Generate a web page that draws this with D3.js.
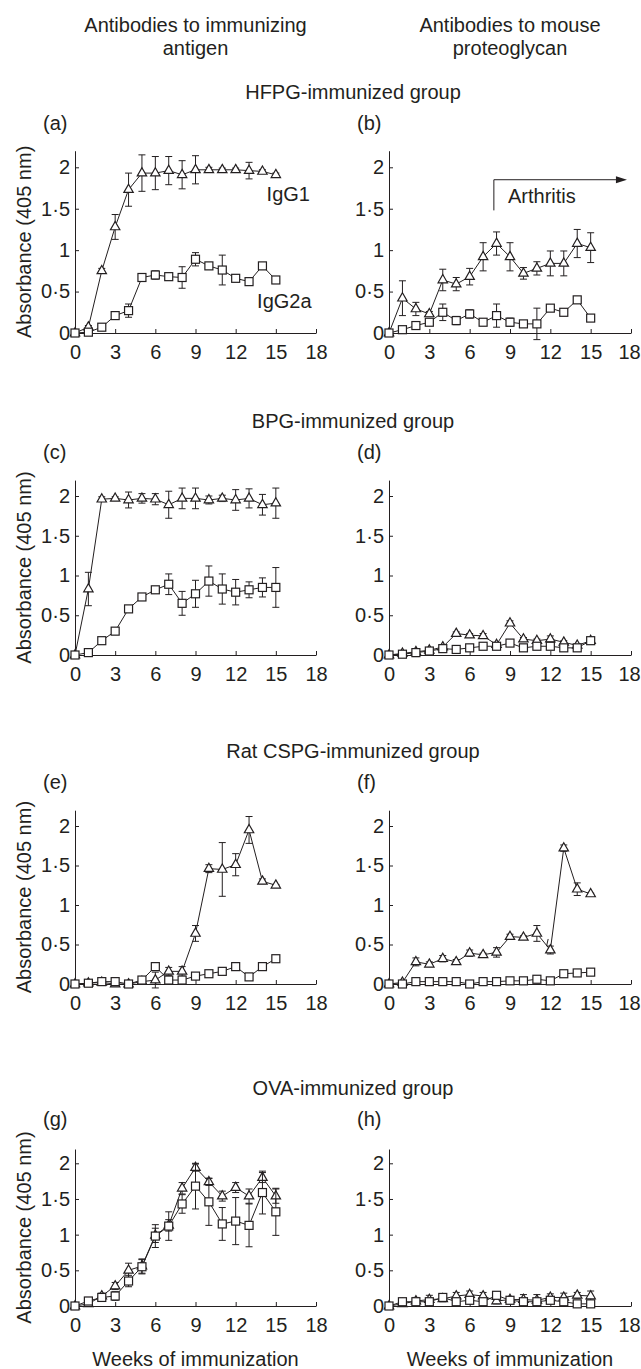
<!DOCTYPE html>
<html>
<head>
<meta charset="utf-8">
<script src="https://cdn.jsdelivr.net/npm/d3@7"></script>
<style>
  body { margin: 0; background: #fff; }
  text { font-family: "Liberation Sans", Arial, Helvetica, sans-serif; fill: #231f20; }
</style>
</head>
<body>
<div id="chart"></div>
<script>
const width = 641;
const height = 1369;
const fontSize = 20;

// weeks of immunization (x values)
const weeks = [0, 1, 2, 3, 4, 5, 6, 7, 8, 9, 10, 11, 12, 13, 14, 15];
const xTicks = [0, 3, 6, 9, 12, 15, 18];
const yTicks = [0, 0.5, 1, 1.5, 2];

// (a) HFPG - antibodies to immunizing antigen
const aIgG1 = [0, 0.07, 0.75, 1.28, 1.73, 1.93, 1.93, 1.96, 1.91, 1.97, 1.97, 1.97, 1.97, 1.96, 1.95, 1.91];
const aIgG1Err = [0, 0.02, 0.03, 0.15, 0.2, 0.22, 0.2, 0.17, 0.17, 0.17, 0.03, 0.02, 0.02, 0.1, 0.02, 0.02];
const aIgG2a = [0, 0.01, 0.07, 0.21, 0.27, 0.67, 0.70, 0.68, 0.67, 0.89, 0.81, 0.76, 0.66, 0.62, 0.81, 0.64];
const aIgG2aErr = [0, 0.01, 0.02, 0.04, 0.08, 0.03, 0.05, 0.03, 0.13, 0.08, 0.04, 0.18, 0.03, 0.02, 0.02, 0.02];

// (b) HFPG - antibodies to mouse proteoglycan
const bIgG1 = [0, 0.42, 0.29, 0.23, 0.64, 0.59, 0.68, 0.92, 1.08, 0.92, 0.72, 0.78, 0.84, 0.84, 1.08, 1.03];
const bIgG1Err = [0, 0.21, 0.08, 0.03, 0.13, 0.08, 0.1, 0.17, 0.14, 0.17, 0.07, 0.08, 0.15, 0.15, 0.17, 0.18];
const bIgG2a = [0, 0.04, 0.09, 0.13, 0.25, 0.15, 0.23, 0.13, 0.21, 0.13, 0.11, 0.11, 0.30, 0.25, 0.40, 0.18];
const bIgG2aErr = [0, 0.01, 0.02, 0.03, 0.1, 0.05, 0.05, 0.02, 0.14, 0.05, 0.03, 0.19, 0.02, 0.03, 0.03, 0.02];

// (c) BPG - immunizing antigen
const cIgG1 = [0, 0.83, 1.96, 1.97, 1.95, 1.97, 1.96, 1.89, 1.97, 1.97, 1.95, 1.97, 1.95, 1.97, 1.89, 1.91];
const cIgG1Err = [0, 0.21, 0.03, 0.02, 0.1, 0.06, 0.07, 0.17, 0.13, 0.13, 0.05, 0.04, 0.13, 0.12, 0.13, 0.19];
const cIgG2a = [0, 0.03, 0.18, 0.30, 0.58, 0.73, 0.82, 0.89, 0.65, 0.77, 0.93, 0.83, 0.79, 0.82, 0.85, 0.85];
const cIgG2aErr = [0, 0.01, 0.01, 0.01, 0.01, 0.02, 0.04, 0.13, 0.15, 0.17, 0.19, 0.19, 0.16, 0.1, 0.12, 0.25];

// (d) BPG - mouse proteoglycan
const dIgG1 = [0, 0.02, 0.04, 0.06, 0.1, 0.27, 0.25, 0.24, 0.13, 0.40, 0.2, 0.18, 0.2, 0.16, 0.12, 0.18];
const dIgG1Err = [0, 0.01, 0.02, 0.03, 0.02, 0.02, 0.02, 0.03, 0.02, 0.03, 0.02, 0.02, 0.04, 0.02, 0.02, 0.02];
const dIgG2a = [0, 0.01, 0.03, 0.05, 0.08, 0.07, 0.09, 0.11, 0.11, 0.15, 0.09, 0.11, 0.11, 0.09, 0.09, 0.18];
const dIgG2aErr = [0, 0.01, 0.05, 0.02, 0.02, 0.02, 0.02, 0.02, 0.02, 0.02, 0.02, 0.02, 0.02, 0.02, 0.02, 0.03];

// (e) Rat CSPG - immunizing antigen
const eIgG1 = [0, 0.01, 0.02, 0.0, 0.0, 0.03, 0.05, 0.16, 0.16, 0.64, 1.46, 1.45, 1.51, 1.95, 1.30, 1.25];
const eIgG1Err = [0, 0.01, 0.01, 0.02, 0.01, 0.02, 0.1, 0.05, 0.06, 0.1, 0.05, 0.34, 0.14, 0.17, 0.03, 0.01];
const eIgG2a = [0, 0.01, 0.03, 0.03, 0.0, 0.05, 0.22, 0.05, 0.05, 0.10, 0.13, 0.16, 0.22, 0.09, 0.22, 0.32];
const eIgG2aErr = [0, 0.01, 0.01, 0.04, 0.01, 0.01, 0.02, 0.01, 0.01, 0.01, 0.01, 0.01, 0.01, 0.01, 0.01, 0.01];

// (f) Rat CSPG - mouse proteoglycan
const fIgG1 = [0, 0.02, 0.28, 0.25, 0.32, 0.28, 0.39, 0.37, 0.40, 0.60, 0.59, 0.64, 0.43, 1.72, 1.20, 1.14];
const fIgG1Err = [0, 0.01, 0.05, 0.03, 0.04, 0.03, 0.04, 0.02, 0.06, 0.03, 0.02, 0.1, 0.05, 0.04, 0.08, 0.01];
const fIgG2a = [0, 0.0, 0.03, 0.03, 0.03, 0.03, 0.0, 0.03, 0.03, 0.04, 0.04, 0.06, 0.04, 0.13, 0.14, 0.15];
const fIgG2aErr = [0, 0.01, 0.01, 0.01, 0.01, 0.01, 0.01, 0.01, 0.01, 0.01, 0.01, 0.01, 0.01, 0.01, 0.01, 0.01];

// (g) OVA - immunizing antigen
const gIgG1 = [0, 0.03, 0.14, 0.28, 0.50, 0.56, 0.99, 1.13, 1.65, 1.94, 1.74, 1.54, 1.66, 1.54, 1.80, 1.54];
const gIgG1Err = [0, 0.02, 0.04, 0.05, 0.1, 0.1, 0.1, 0.08, 0.08, 0.05, 0.05, 0.07, 0.07, 0.1, 0.07, 0.1];
const gIgG2a = [0, 0.07, 0.12, 0.14, 0.35, 0.55, 0.98, 1.12, 1.43, 1.68, 1.46, 1.15, 1.19, 1.13, 1.59, 1.32];
const gIgG2aErr = [0, 0.05, 0.05, 0.06, 0.08, 0.1, 0.16, 0.2, 0.13, 0.32, 0.33, 0.23, 0.33, 0.3, 0.3, 0.33];

// (h) OVA - mouse proteoglycan
const hIgG1 = [0, 0.03, 0.07, 0.09, 0.1, 0.14, 0.16, 0.14, 0.07, 0.09, 0.09, 0.08, 0.12, 0.12, 0.15, 0.14];
const hIgG1Err = [0, 0.02, 0.05, 0.06, 0.04, 0.05, 0.05, 0.05, 0.04, 0.04, 0.07, 0.08, 0.05, 0.06, 0.04, 0.07];
const hIgG2a = [0, 0.06, 0.06, 0.06, 0.12, 0.06, 0.08, 0.06, 0.15, 0.08, 0.06, 0.06, 0.08, 0.06, 0.03, 0.03];
const hIgG2aErr = [0, 0.02, 0.02, 0.02, 0.04, 0.02, 0.02, 0.02, 0.02, 0.02, 0.02, 0.02, 0.02, 0.02, 0.02, 0.02];

// arthritis onset arrow in (b): start week, end week, bottom / top absorbance
const arthritisArrow = [7.8, 17.7, 1.48, 1.85];
// stray slash in (f)
const fSlash = [[11.72, 0.48], [11.84, 0.57]];

const colHeaders = [["Antibodies to immunizing", "antigen"], ["Antibodies to mouse", "proteoglycan"]];
const groupTitles = ["HFPG-immunized group", "BPG-immunized group", "Rat CSPG-immunized group", "OVA-immunized group"];

// layout
const cols = [[75, 316], [389, 631]];
const rows = [
  { y0: 333, y2: 167.3 },
  { y0: 655, y2: 496 },
  { y0: 984, y2: 826 },
  { y0: 1306, y2: 1163.3 }
];

const panels = [
  { id: "(a)", col: 0, row: 0, tri: aIgG1, triErr: aIgG1Err, sq: aIgG2a, sqErr: aIgG2aErr },
  { id: "(b)", col: 1, row: 0, tri: bIgG1, triErr: bIgG1Err, sq: bIgG2a, sqErr: bIgG2aErr },
  { id: "(c)", col: 0, row: 1, tri: cIgG1, triErr: cIgG1Err, sq: cIgG2a, sqErr: cIgG2aErr },
  { id: "(d)", col: 1, row: 1, tri: dIgG1, triErr: dIgG1Err, sq: dIgG2a, sqErr: dIgG2aErr },
  { id: "(e)", col: 0, row: 2, tri: eIgG1, triErr: eIgG1Err, sq: eIgG2a, sqErr: eIgG2aErr },
  { id: "(f)", col: 1, row: 2, tri: fIgG1, triErr: fIgG1Err, sq: fIgG2a, sqErr: fIgG2aErr },
  { id: "(g)", col: 0, row: 3, tri: gIgG1, triErr: gIgG1Err, sq: gIgG2a, sqErr: gIgG2aErr },
  { id: "(h)", col: 1, row: 3, tri: hIgG1, triErr: hIgG1Err, sq: hIgG2a, sqErr: hIgG2aErr }
];

const ink = "#231f20";

const svg = d3.select("#chart")
  .append("svg")
  .attr("width", width)
  .attr("height", height)
  .attr("font-size", fontSize);

// column headers
colHeaders.forEach((lines, i) => {
  const cx = (cols[i][0] + cols[i][1]) / 2;
  lines.forEach((t, j) => {
    svg.append("text")
      .attr("x", cx)
      .attr("y", 32 + j * 23)
      .attr("text-anchor", "middle")
      .text(t);
  });
});

const triPath = "M0,-5.4L4.7,2.8L-4.7,2.8Z";

panels.forEach(p => {
  const r = rows[p.row];
  const x = d3.scaleLinear().domain([0, 18]).range(cols[p.col]);
  const yTop = r.y0 - 1.1 * (r.y0 - r.y2);
  const y = d3.scaleLinear().domain([0, 2.2]).range([r.y0, yTop]);

  const g = svg.append("g").attr("class", "panel");

  // panel letter
  g.append("text")
    .attr("x", cols[p.col][0] - 32)
    .attr("y", r.y2 - 37)
    .text(p.id);

  // axes
  const xAxis = d3.axisBottom(x)
    .tickValues(xTicks)
    .tickSize(-4)
    .tickSizeOuter(0)
    .tickPadding(12)
    .tickFormat(d3.format("d"));

  const yAxis = d3.axisLeft(y)
    .tickValues(yTicks)
    .tickSize(-4)
    .tickSizeOuter(0)
    .tickPadding(5)
    .tickFormat(d => String(d).replace(".", "·"));

  g.append("g")
    .attr("transform", `translate(0, ${r.y0})`)
    .call(xAxis)
    .call(s => s.selectAll("text").attr("font-size", fontSize).attr("font-family", null).attr("fill", ink))
    .call(s => s.selectAll("text").filter(d => p.col === 1 && d === 18).attr("dx", -2))
    .call(s => s.selectAll("path, line").attr("stroke", ink));

  g.append("g")
    .attr("transform", `translate(${cols[p.col][0]}, 0)`)
    .call(yAxis)
    .call(s => s.selectAll("text").attr("font-size", fontSize).attr("font-family", null).attr("fill", ink))
    .call(s => s.selectAll("path, line").attr("stroke", ink));

  if (p.col === 0) {
    g.append("text")
      .attr("transform", `translate(31, ${(r.y0 + yTop) / 2}) rotate(-90)`)
      .attr("text-anchor", "middle")
      .text("Absorbance (405 nm)");
  }

  const line = d3.line()
    .x((d, i) => x(weeks[i]))
    .y(d => y(d));

  const series = [
    { vals: p.tri, err: p.triErr, shape: "tri" },
    { vals: p.sq, err: p.sqErr, shape: "sq" }
  ];

  // lines first
  series.forEach(s => {
    g.append("path")
      .attr("d", line(s.vals))
      .attr("fill", "none")
      .attr("stroke", ink)
      .attr("stroke-width", 1);
  });

  series.forEach(s => {
    const pts = s.vals.map((v, i) => ({ w: weeks[i], v: v, e: s.err[i] }));
    const eb = g.append("g").attr("stroke", ink).attr("stroke-width", 1);
    pts.filter(d => d.e > 0).forEach(d => {
      eb.append("line")
        .attr("x1", x(d.w)).attr("x2", x(d.w))
        .attr("y1", y(d.v - d.e)).attr("y2", y(d.v + d.e));
      [d.v - d.e, d.v + d.e].forEach(v => {
        eb.append("line")
          .attr("x1", x(d.w) - 3.5).attr("x2", x(d.w) + 3.5)
          .attr("y1", y(v)).attr("y2", y(v));
      });
    });

    const m = g.append("g")
      .attr("fill", "#fff")
      .attr("stroke", ink)
      .attr("stroke-width", 1.2);
    if (s.shape === "tri") {
      m.selectAll("path")
        .data(pts)
        .join("path")
        .attr("d", triPath)
        .attr("transform", d => `translate(${x(d.w)}, ${y(d.v)})`);
    } else {
      m.selectAll("rect")
        .data(pts)
        .join("rect")
        .attr("x", d => x(d.w) - 4)
        .attr("y", d => y(d.v) - 4)
        .attr("width", 8)
        .attr("height", 8);
    }
  });

  if (p.id === "(a)") {
    g.append("text").attr("x", x(17.55)).attr("y", y(1.59)).attr("text-anchor", "end").text("IgG1");
    g.append("text").attr("x", x(17.67)).attr("y", y(0.3)).attr("text-anchor", "end").text("IgG2a");
  }

  if (p.id === "(b)") {
    const [xs, xe, yb, yt] = arthritisArrow;
    g.append("path")
      .attr("d", `M${x(xs)},${y(yb)}V${y(yt)}H${x(xe) - 9}`)
      .attr("fill", "none")
      .attr("stroke", ink)
      .attr("stroke-width", 1);
    g.append("path")
      .attr("d", `M${x(xe)},${y(yt)}l-11,-3.5v7z`)
      .attr("fill", ink);
    g.append("text")
      .attr("x", x(8.85))
      .attr("y", y(1.565))
      .text("Arthritis");
  }

  if (p.id === "(f)") {
    g.append("line")
      .attr("x1", x(fSlash[0][0])).attr("y1", y(fSlash[0][1]))
      .attr("x2", x(fSlash[1][0])).attr("y2", y(fSlash[1][1]))
      .attr("stroke", ink)
      .attr("stroke-width", 1);
  }
});

// group titles
groupTitles.forEach((t, i) => {
  svg.append("text")
    .attr("x", (cols[0][0] + cols[1][1]) / 2)
    .attr("y", rows[i].y2 - 68)
    .attr("text-anchor", "middle")
    .text(t);
});

// bottom x labels
cols.forEach(c => {
  svg.append("text")
    .attr("x", (c[0] + c[1]) / 2)
    .attr("y", 1366)
    .attr("text-anchor", "middle")
    .text("Weeks of immunization");
});
</script>
</body>
</html>
